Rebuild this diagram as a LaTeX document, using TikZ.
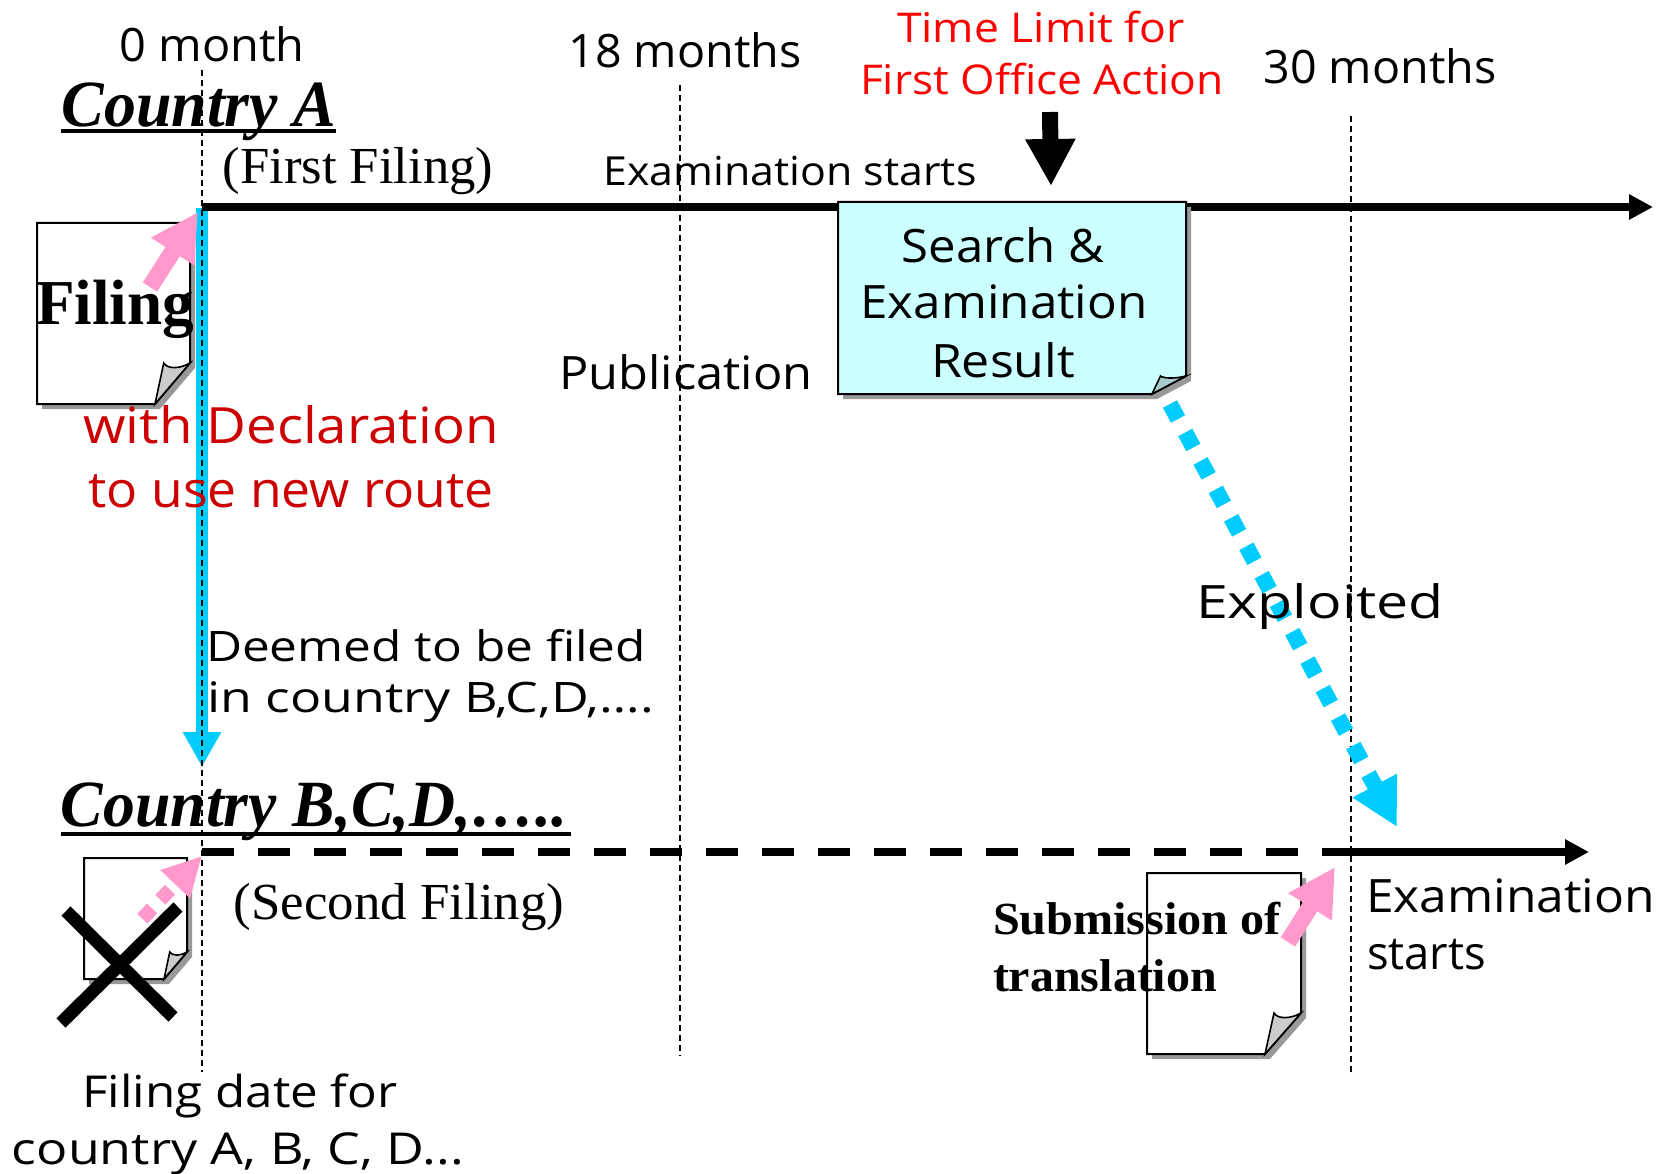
\documentclass[tikz,border=0pt]{standalone}
\usepackage{graphicx}
\usepackage{fontspec}
\setmainfont{Open Sans}
\newfontfamily\tms{Liberation Serif}
\usetikzlibrary{arrows.meta}
\definecolor{pinkarrow}{HTML}{FF99CC}
\definecolor{cyanarrow}{HTML}{00CCFF}
\definecolor{boxfill}{HTML}{CCFFFF}
\definecolor{foldbox}{HTML}{A8CCCC}
\definecolor{shadowgray}{HTML}{999999}
\definecolor{darkred}{HTML}{CC0000}
\newcommand{\tw}[2]{\resizebox{#1pt}{\height}{#2}}
\newcommand{\sz}[1]{\fontsize{#1pt}{#1pt}\selectfont}
% x0,y0,x1,y1,dx,dy,fill,foldfill
\newcommand{\docshape}[8]{%
  \fill[shadowgray] (#1+5,#2+5) -- (#3+5,#2+5) -- (#3+5,#4-#6+5) -- (#3-#5+5,#4+5) -- (#1+5,#4+5) -- cycle;
  \draw[line width=2pt,fill=#7] (#1,#2) -- (#3,#2) -- (#3,#4-#6) -- (#3-#5,#4) -- (#1,#4) -- cycle;
  \draw[line width=1.6pt,fill=#8] (#3-#5,#4) -- (#3-.75*#5,#4-#6) .. controls (#3-.65*#5,#4-.85*#6) and (#3-.3*#5,#4-.85*#6) .. (#3,#4-#6) -- cycle;
}
\tikzset{
  x=1pt,y=-1pt,
  lbl/.style={anchor=base,inner sep=0pt,outer sep=0pt,text=black},
  lblw/.style={anchor=base west,inner sep=0pt,outer sep=0pt,text=black},
  guide/.style={line width=2.2pt,dash pattern=on 6pt off 4pt},
  mainline/.style={line width=8pt},
  pinkline/.style={draw=pinkarrow,-{Triangle[length=47pt,width=48pt,fill=pinkarrow]}},
  ulined/.style={line width=4pt},
}
\begin{document}
\begin{tikzpicture}
\useasboundingbox[fill=white] (0,0) rectangle (1660,1174);
% named coordinates
\coordinate (g0a) at (202,70);   \coordinate (g0b) at (202,1072);
\coordinate (g18a) at (680,85);  \coordinate (g18b) at (680,1056);
\coordinate (g30a) at (1351,116);\coordinate (g30b) at (1351,1072);
\coordinate (topL) at (202,207); \coordinate (topR) at (1653,207);
\coordinate (botL) at (202,852); \coordinate (botM) at (1323,852); \coordinate (botR) at (1589,852);
% cyan transfer arrow
\coordinate (cyA) at (202,208); \coordinate (cyB) at (202,767);
\draw[line width=12pt,draw=cyanarrow,-{Triangle[length=35pt,width=36pt,fill=cyanarrow]}] (cyA) -- (cyB);
% guides
\draw[guide] (g0a) -- (g0b);
\draw[guide] (g18a) -- (g18b);
\draw[guide] (g30a) -- (g30b);
% timelines
\draw[mainline,-{Triangle[length=24pt,width=24pt]}] (topL) -- (topR);
\draw[mainline,dash pattern=on 32pt off 24pt] (botL) -- (botM);
\draw[mainline,-{Triangle[length=24pt,width=24pt]}] (botM) -- (botR);
% documents
\docshape{37}{223}{190}{404}{35}{41}{white}{black!20}
\docshape{84}{858}{187}{979}{23}{27}{white}{black!20}
\docshape{1147}{873}{1301}{1054}{36}{41}{white}{black!20}
\docshape{838}{202}{1186}{394}{34}{18}{boxfill}{foldbox}
% box text
\node[lbl] (s1) at (1003,263) {\sz{46}\tw{203}{Search \&}};
\node[lbl] (s2) at (1004,319) {\sz{46}\tw{287}{Examination}};
\node[lbl] (s3) at (1003,377) {\sz{46}\tw{144}{Result}};
% black arrow
\coordinate (blA) at (1050,112); \coordinate (blB) at (1051,186);
\draw[line width=16pt,-{Triangle[length=47pt,width=47pt]}] (blA) -- (blB);
% exploited arrow
\coordinate (dotA) at (1170,404); \coordinate (dotB) at (1397,827);
\draw[line width=16pt,draw=cyanarrow,dash pattern=on 17pt off 15.3pt,-{Triangle[length=47pt,width=47pt,fill=cyanarrow]}] (dotA) -- (dotB);
% cross
\coordinate (xa) at (66,911); \coordinate (xb) at (173,1017);
\coordinate (xc) at (61,1023); \coordinate (xd) at (178,907);
% texts
\node[lbl] (m0) at (212,62) {\sz{46}\tw{185}{0 month}};
\node[lbl] (m18) at (685,68) {\sz{46}\tw{233}{18 months}};
\node[lbl] (m30) at (1380,84) {\sz{46}\tw{233}{30 months}};
\node[lbl,text=red] (t1) at (1041,43) {\sz{41}\tw{288}{Time Limit for}};
\node[lbl,text=red] (t2) at (1042,95) {\sz{41}\tw{364}{First Office Action}};
\node[lbl] (ca) at (199,127) {\tms\bfseries\itshape\sz{66}\tw{275}{Country A}};
\node[lbl] (ff) at (358,184) {\tms\sz{52}\tw{271}{(First Filing)}};
\node[lbl] (ex1) at (790,186) {\sz{40}\tw{373}{Examination starts}};
\node[lbl] (pub) at (686,389) {\sz{46}\tw{253}{Publication}};
\node[lbl,text=darkred] (d1) at (291,443) {\sz{50}\tw{415}{with Declaration}};
\node[lbl,text=darkred] (d2) at (291,507) {\sz{50}\tw{405}{to use new route}};
\node[lblw] (dm1) at (206,661) {\sz{42}\tw{440}{Deemed to be filed}};
\node[lblw] (dm2) at (207,712) {\sz{42}\tw{447}{in country B,C,D,….}};
\node[lbl] (expl) at (1320,618) {\sz{46}\tw{248}{Exploited}};
\node[lbl] (cb) at (314,826) {\tms\bfseries\itshape\sz{66}\tw{506}{Country B,C,D,…..}};
\node[lbl] (sf) at (399,919) {\tms\sz{52}\tw{331}{(Second Filing)}};
\node[lblw] (sub1) at (993,934) {\tms\bfseries\sz{46}\tw{288}{Submission of}};
\node[lblw] (sub2) at (993,991) {\tms\bfseries\sz{46}\tw{224}{translation}};
\node[lblw] (e1) at (1366,912) {\sz{46}\tw{289}{Examination}};
\node[lblw] (e2) at (1367,969) {\sz{46}\tw{119}{starts}};
\node[lbl] (fd1) at (240,1107) {\sz{44}\tw{315}{Filing date for}};
\node[lbl] (fd2) at (238,1164) {\sz{44}\tw{452}{country A, B, C, D...}};
\node[lbl] (fil) at (115,325) {\tms\bfseries\sz{64}\tw{158}{Filing}};
% underlines
\coordinate (u1a) at (61,131); \coordinate (u1b) at (336,131);
\coordinate (u2a) at (61,834); \coordinate (u2b) at (571,834);
\draw[ulined] (u1a) -- (u1b);
\draw[ulined] (u2a) -- (u2b);
% pink arrows
\coordinate (p1a) at (150,287); \coordinate (p1b) at (198,212);
\coordinate (p2a) at (142.4,918.6); \coordinate (p2b) at (202,856);
\coordinate (p3a) at (1288,942); \coordinate (p3b) at (1335,867);
\draw[pinkline,line width=17pt] (p1a) -- (p1b);
\draw[draw=pinkarrow,line width=14pt,dash pattern=on 14pt off 12pt,-{Triangle[length=39pt,width=38pt,fill=pinkarrow]}] (p2a) -- (p2b);
\draw[pinkline,line width=17pt] (p3a) -- (p3b);
% cross
\draw[line width=13pt] (xa) -- (xb);
\draw[line width=13pt] (xc) -- (xd);
\end{tikzpicture}
\end{document}
